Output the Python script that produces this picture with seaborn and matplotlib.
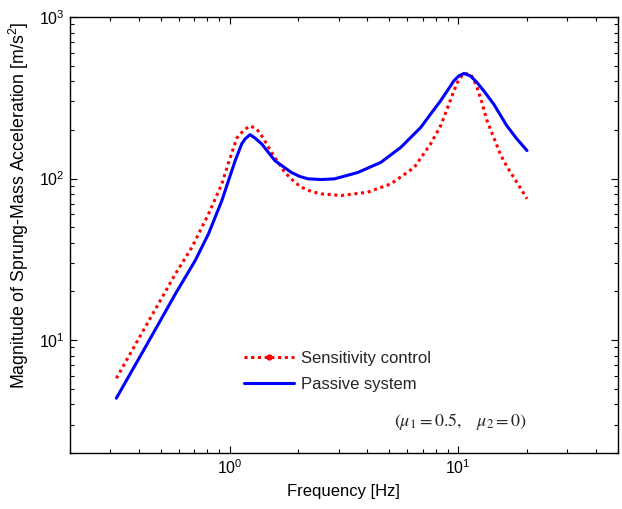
import matplotlib
matplotlib.use("Agg")
import matplotlib.pyplot as plt
from matplotlib.lines import Line2D
import seaborn as sns
import pandas as pd

# Passive system (blue solid)
passive_freq = [0.320, 0.416, 0.581, 0.709, 0.810, 0.926, 0.990, 1.059, 1.131,
                1.170, 1.230, 1.293, 1.382, 1.580, 1.866, 2.03, 2.206, 2.52,
                2.882, 3.638, 4.593, 5.612, 6.856, 7.58, 8.375, 8.96, 9.58,
                10.07, 10.59, 11.31, 12.09, 12.94, 14.30, 16.33, 18.05, 20.0]
passive_mag = [4.37, 8.39, 19.4, 31.2, 45.6, 73.1, 97.2, 129, 164,
               176, 187, 178, 164, 129, 109, 103, 99.6, 98.6,
               99.6, 109, 126, 156, 207, 251, 303, 349, 403,
               432, 447, 432, 393, 349, 289, 212, 176, 149]

# Sensitivity control (red dotted)
sens_freq = [0.320, 0.416, 0.581, 0.686, 0.810, 0.926, 0.997, 1.076, 1.150,
             1.230, 1.314, 1.382, 1.453, 1.527, 1.746, 1.93, 2.063, 2.279,
             2.519, 3.077, 4.02, 5.08, 6.42, 7.58, 8.375, 8.66, 9.58,
             10.07, 10.59, 11.31, 11.68, 12.09, 12.7, 13.37, 14.3, 15.27,
             16.33, 17.47, 20.0]
sens_mag = [5.80, 11.2, 25.8, 37.7, 60.5, 92.7, 129, 178, 198,
            212, 203, 184, 164, 145, 109, 94.9, 88.4, 83.1,
            80.4, 78.5, 82.3, 92.7, 117, 164, 212, 239, 349,
            412, 447, 443, 412, 366, 296, 228, 180, 142,
            118.6, 102, 75]

legend_labels = ["Sensitivity control", "Passive system"]
x_label = "Frequency [Hz]"
y_label = "Magnitude of Sprung-Mass Acceleration [m/s$^2$]"
note = r"$(\mu_1 = 0.5,\quad \mu_2 = 0)$"

sns.set_theme(style="white")
plt.rcParams["font.family"] = ["Liberation Sans", "DejaVu Sans"]
plt.rcParams["mathtext.fontset"] = "custom"
plt.rcParams["mathtext.rm"] = "Liberation Sans"
plt.rcParams["mathtext.it"] = "Liberation Sans:italic"
plt.rcParams["xtick.direction"] = "in"
plt.rcParams["ytick.direction"] = "in"

fig = plt.figure(figsize=(6.22, 5.09), dpi=100)
ax = fig.add_axes([0.112, 0.110, 0.8816, 0.8566])

df_s = pd.DataFrame({"f": sens_freq, "m": sens_mag})
df_p = pd.DataFrame({"f": passive_freq, "m": passive_mag})

sns.lineplot(data=df_s, x="f", y="m", ax=ax, color="#ff0000", linewidth=2.2,
             linestyle=(0, (1, 1.2)), sort=False)
sns.lineplot(data=df_p, x="f", y="m", ax=ax, color="#0000ff", linewidth=2.2,
             sort=False)

ax.set_xscale("log")
ax.set_yscale("log")
ax.set_xlim(0.2, 50)
ax.set_ylim(2, 1000)

for s in ax.spines.values():
    s.set_color("black")
    s.set_linewidth(1.0)

ax.tick_params(which="both", direction="in", top=True, right=True,
               bottom=True, left=True, colors="black", labelsize=11.5)
ax.tick_params(which="major", length=5, width=0.8)
ax.tick_params(which="minor", length=3, width=0.8)

ax.set_xlabel(x_label, fontsize=12, color="black", labelpad=5)
ax.set_ylabel(y_label, fontsize=12.8, color="black")
ax.yaxis.set_label_coords(-0.070, 0.567)

handles = [
    Line2D([], [], color="#ff0000", linewidth=2.2, linestyle=(0, (1, 1.2)),
           marker=".", markersize=7),
    Line2D([], [], color="#0000ff", linewidth=2.2),
]
leg = ax.legend(handles, legend_labels, loc="lower left",
                bbox_to_anchor=(0.3055, 0.124), frameon=False, fontsize=12,
                handlelength=3.0, handletextpad=0.45, labelspacing=0.7,
                borderaxespad=0)

ax.text(0.712, 0.073, note, transform=ax.transAxes, ha="center", va="center",
        fontsize=13, family="serif", math_fontfamily="stix")

fig.savefig("out.png", dpi=100)
